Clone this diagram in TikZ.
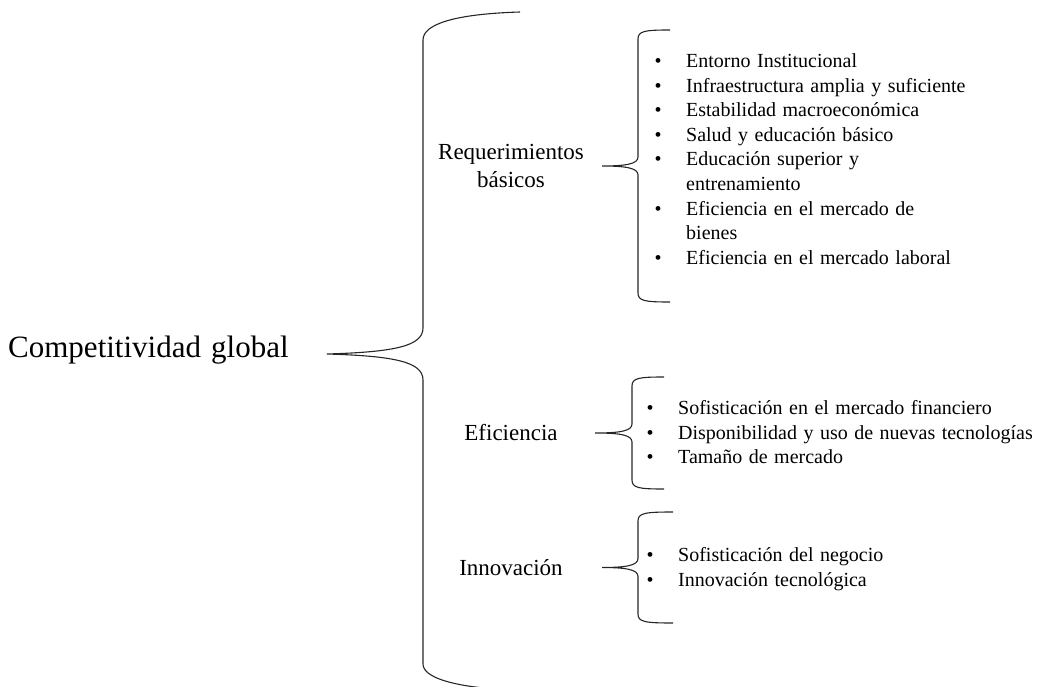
\documentclass[tikz,border=0pt]{standalone}
\usepackage{fontspec}
\setmainfont{Liberation Serif}[WordSpace=1.3]
\newcommand\smallbrace[6]{% #1 right x, #2 vertical x, #3 tip x, #4 top y, #5 middle y, #6 bottom y
  \draw[brace] (#1,#4) .. controls (#2+7,#4) and (#2,#4+1) .. (#2,#4+9)
    -- (#2,#5-9) .. controls (#2,#5-2) and (#2-12,#5) .. (#3,#5)
    .. controls (#2-12,#5) and (#2,#5+2) .. (#2,#5+9)
    -- (#2,#6-9) .. controls (#2,#6-1) and (#2+7,#6) .. (#1,#6);}
\begin{document}
\begin{tikzpicture}[x=1pt,y=-1pt,
  brace/.style={draw=black!85,line width=1.1pt},
  itemlist/.style={inner sep=0pt,anchor=base west,font=\fontsize{20}{24.6}\selectfont},
  lbl/.style={inner sep=0pt,align=center,font=\fontsize{23}{28}\selectfont},
  title/.style={inner sep=0pt,anchor=base west,font=\fontsize{31}{36}\selectfont}]
\useasboundingbox (0,0) rectangle (1039,687);

% main label and big brace
\node[title] (comp) at (8,357) {Competitividad global};
\coordinate (bigtip) at (327,354);
\draw[brace] (520,12) .. controls (455,14) and (423,24) .. (423,40)
  -- (423,328) .. controls (423,346) and (395,352) .. (bigtip)
  .. controls (395,356) and (423,362) .. (423,380)
  -- (423,664) .. controls (423,678) and (455,686) .. (495,689);

% group labels
\node[lbl] (req) at (511,166) {Requerimientos\\básicos};
\node[lbl,anchor=base] (efi) at (511,440) {Eficiencia};
\node[lbl,anchor=base] (inn) at (511,575) {Innovación};

% small braces
\smallbrace{670}{638}{602}{30}{166}{302}
\smallbrace{664}{632}{595}{377}{433}{489}
\smallbrace{673}{638}{602}{512}{567.5}{623}

% item lists
\node[itemlist] (l1) at (654.5,67.5) {\begin{tabular}[t]{@{}p{31.5pt}@{}l@{}}
•& Entorno Institucional\\
•& Infraestructura amplia y suficiente\\
•& Estabilidad macroeconómica\\
•& Salud y educación básico\\
•& Educación superior y\\
 & entrenamiento\\
•& Eficiencia en el mercado de\\
 & bienes\\
•& Eficiencia en el mercado laboral
\end{tabular}};

\node[itemlist] (l2) at (646.5,414.5) {\begin{tabular}[t]{@{}p{31.5pt}@{}l@{}}
•& Sofisticación en el mercado financiero\\
•& Disponibilidad y uso de nuevas tecnologías\\
•& Tamaño de mercado
\end{tabular}};

\node[itemlist] (l3) at (646.5,561.5) {\begin{tabular}[t]{@{}p{31.5pt}@{}l@{}}
•& Sofisticación del negocio\\
•& Innovación tecnológica
\end{tabular}};
\end{tikzpicture}
\end{document}
